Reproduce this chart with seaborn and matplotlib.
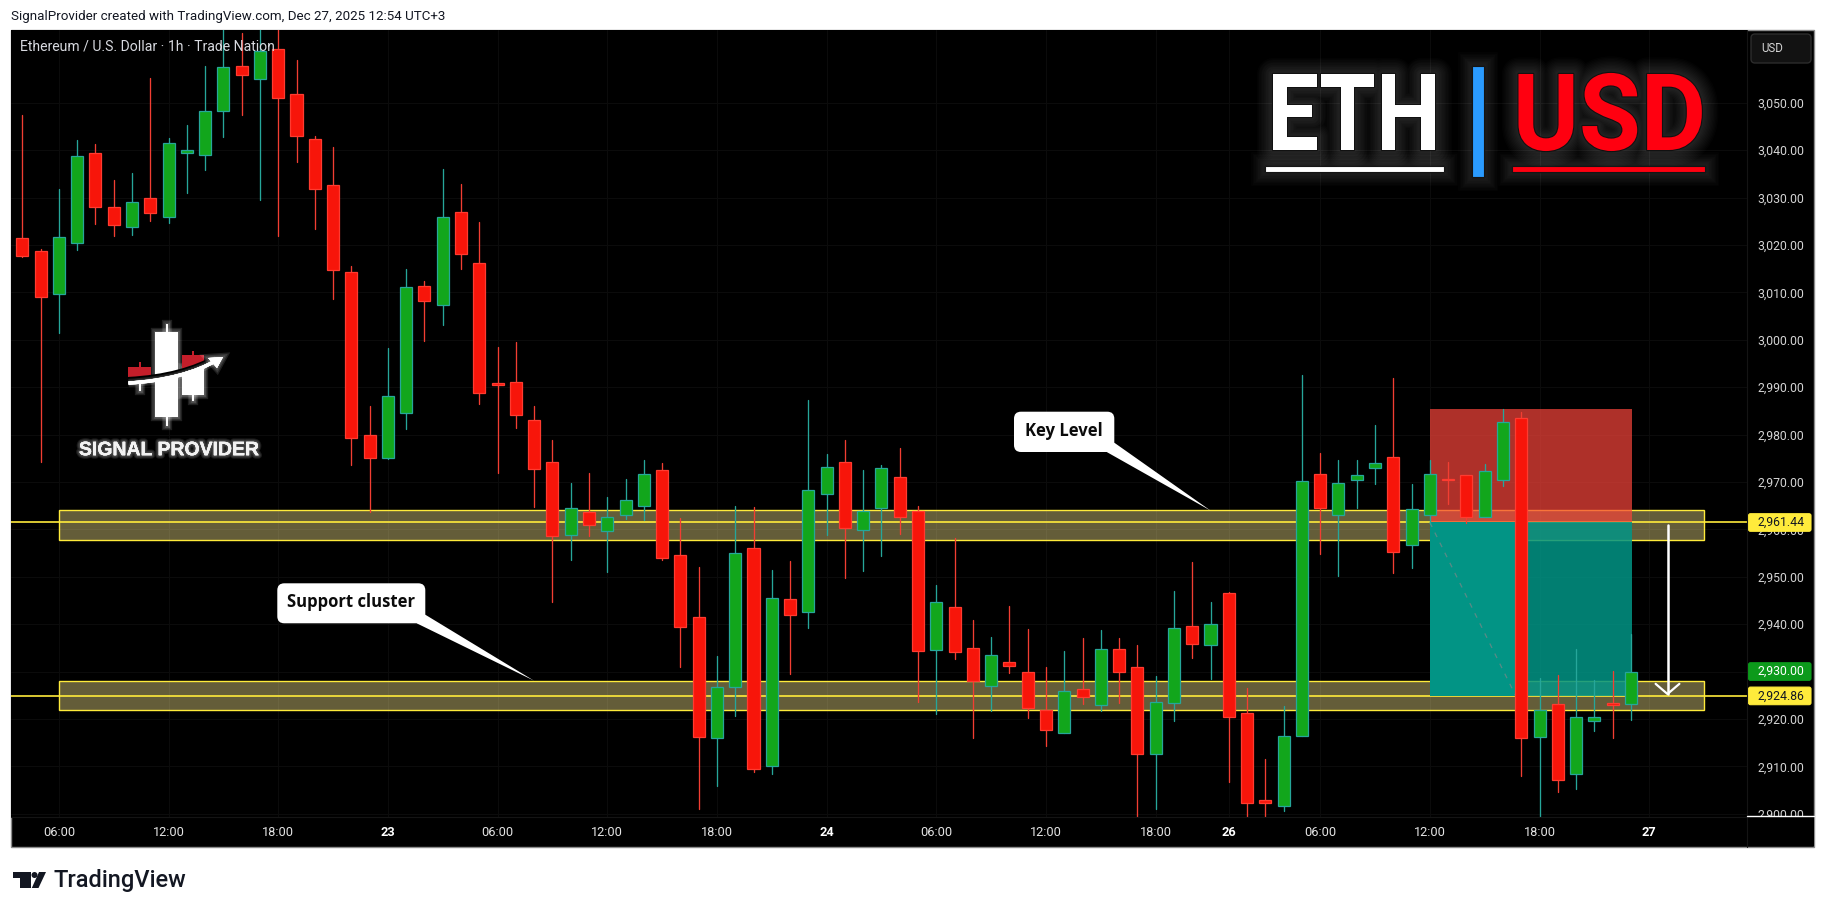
import numpy as np
import pandas as pd
import matplotlib
matplotlib.use("Agg")
import matplotlib.pyplot as plt
import matplotlib.patheffects as pe
from matplotlib.patches import FancyBboxPatch, Polygon, Rectangle
from matplotlib.path import Path
from matplotlib.patches import PathPatch
from matplotlib.transforms import Affine2D
import seaborn as sns

# ---------------------------------------------------------------- data
opens = [3021.4,3018.7,3009.7,3020.3,3039.3,3027.9,3023.8,3030.0,3025.9,3039.3,3039.0,3048.3,3057.75,3055.1,3061.3,3051.8,3042.3,3032.6,3014.2,2979.8,
         2975.1,2984.6,3011.3,3007.4,3026.9,3016.1,2990.9,2991.0,2983.0,2974.3,2958.9,2963.6,2959.7,2963.1,2965.0,2972.6,2954.5,2941.6,2916.0,2926.8,
         2956.0,2910.1,2945.4,2942.6,2967.5,2974.3,2959.9,2964.6,2971.0,2963.8,2934.6,2943.7,2934.9,2927.0,2932.1,2930.0,2921.8,2917.1,2926.4,2923.0,
         2934.7,2930.9,2912.7,2923.4,2939.5,2935.65,2946.5,2921.2,2902.8,2901.7,2916.4,2971.6,2963.1,2970.3,2972.9,2975.2,2956.6,2963.1,2970.6,2971.4,
         2962.7,2970.3,2983.4,2916.2,2923.1,2908.4,2919.6,2923.3,2923.1]
highs = [3047.4,3019.1,3031.8,3042.1,3041.3,3033.7,3035.2,3055.2,3042.6,3045.3,3057.75,3066.4,3064.8,3066.4,3066.4,3059.0,3043.0,3040.7,3015.6,2986.0,
         2998.3,3014.9,3012.4,3036.0,3032.9,3024.8,2998.5,2999.5,2986.0,2978.8,2969.8,2971.9,2966.8,2970.6,2974.6,2973.9,2962.4,2952.0,2933.3,2964.9,
         2964.7,2951.4,2953.3,2987.3,2975.9,2978.8,2972.5,2973.6,2977.1,2964.9,2948.2,2958.1,2940.9,2937.3,2943.8,2938.96,2930.9,2934.3,2937.0,2938.7,
         2937.0,2935.6,2929.0,2947.0,2953.1,2944.7,2946.8,2926.5,2911.5,2922.7,2992.55,2976.1,2974.6,2974.6,2982.0,2991.9,2969.6,2974.6,2974.1,2971.4,
         2973.7,2985.3,2984.7,2928.6,2929.2,2934.7,2928.2,2930.1,2937.9]
lows = [3017.4,2974.3,3001.5,3018.9,3024.4,3021.9,3022.1,3025.0,3024.7,3030.9,3035.8,3042.8,3047.4,3029.5,3021.9,3037.5,3023.4,3008.6,2973.6,2963.6,
        2974.8,2981.2,2999.7,3003.1,3014.9,2986.4,2971.9,2981.4,2964.7,2944.7,2953.5,2958.6,2951.0,2962.2,2961.9,2953.5,2931.0,2901.0,2905.8,2920.6,
        2908.9,2908.4,2929.5,2939.2,2958.8,2949.7,2951.2,2954.4,2959.0,2923.6,2921.0,2932.6,2915.96,2921.7,2929.7,2920.2,2914.3,2917.0,2923.2,2921.7,
        2923.4,2899.4,2901.0,2919.5,2932.8,2928.4,2906.7,2899.4,2899.4,2900.6,2916.4,2954.8,2950.2,2964.6,2969.6,2950.8,2951.9,2961.1,2965.4,2961.3,
        2962.6,2969.1,2908.0,2899.4,2904.6,2905.3,2917.5,2915.96,2919.8]
closes = [3017.7,3009.1,3021.6,3038.7,3028.1,3024.3,3029.0,3026.8,3041.4,3040.0,3048.2,3057.5,3055.9,3060.9,3050.9,3043.0,3031.9,3014.8,2979.3,2975.1,
          2988.1,3011.1,3008.2,3025.8,3018.0,2988.7,2990.4,2984.2,2972.8,2958.5,2964.6,2961.0,2962.5,2966.1,2971.6,2954.0,2939.4,2916.2,2926.7,2955.1,
          2909.4,2945.6,2941.9,2968.4,2973.1,2960.2,2963.8,2972.9,2962.5,2934.4,2944.6,2934.2,2928.1,2933.4,2931.2,2922.4,2917.7,2925.8,2924.7,2934.7,
          2929.95,2912.7,2923.5,2939.1,2935.9,2939.95,2920.5,2902.3,2902.3,2916.5,2970.1,2964.6,2969.7,2971.4,2973.9,2955.3,2964.2,2971.6,2970.4,2962.5,
          2972.2,2982.6,2916.0,2921.8,2907.2,2920.5,2920.5,2923.0,2929.8]

price_ticks = [3050,3040,3030,3020,3010,3000,2990,2980,2970,2960,2950,2940,2930,2920,2910,2900]
time_tick_bars = [2,8,14,20,26,32,38,44,50,56,62,66,71,77,83,89]
time_tick_labels = ["06:00","12:00","18:00","23","06:00","12:00","18:00","24","06:00","12:00","18:00","26","06:00","12:00","18:00","27"]
bold_labels = ["23","24","26","27"]

key_level = 2961.44
support_level = 2924.86
last_price = 2930.00
zone_start_bar, zone_end_bar = 2.03, 92.0
key_zone = (2957.7, 2964.0)
support_zone = (2921.8, 2928.0)
pos_start_bar, pos_split_bar, pos_end_bar = 77.0, 81.7, 88.05
stop_price = 2985.3
arrow_bar = 90.0
arrow_head_bars = 0.65
arrow_head_price = 2927.4

# ---------------------------------------------------------------- layout
W, H = 1826, 913
sns.set_theme(style="dark", rc={"axes.facecolor": "black", "figure.facecolor": "white",
                                "axes.edgecolor": "black", "grid.color": "#0b0b0b"})
plt.rcParams["font.family"] = ["Roboto", "DejaVu Sans"]
fig = plt.figure(figsize=(W / 100, H / 100), dpi=100)

# black chart frame
fig.add_artist(Rectangle((11 / W, 1 - 847 / H), (1814 - 11) / W, (847 - 30) / H, transform=fig.transFigure,
                         facecolor="black", edgecolor="#8c8c8c", linewidth=1.0, zorder=-5))

ax = fig.add_axes([11 / W, 1 - 817 / H, (1747 - 11) / W, (817 - 30) / H], facecolor="black")
ax.set_xlim((11 - 22.3) / 18.28, (1747 - 22.3) / 18.28)
ax.set_ylim(2899.31, 3065.34)


def py(p):
    """price -> figure pixel row"""
    return 30 + (3065.34 - p) / (3065.34 - 2899.31) * (817 - 30)


for s in ax.spines.values():
    s.set_visible(False)
ax.yaxis.tick_right()
ax.set_yticks(price_ticks)
ax.set_yticklabels([f"{v:,.2f}" for v in price_ticks], fontsize=8.8, color="#d4d4d4")
ax.set_xticks(time_tick_bars)
ax.set_xticklabels(time_tick_labels, fontsize=9.2, color="#e4e4e4")
for lab in ax.get_xticklabels():
    if lab.get_text() in bold_labels:
        lab.set_fontweight("bold")
        lab.set_color("white")
ax.tick_params(axis="y", length=0, pad=7.6)
ax.tick_params(axis="x", length=0, pad=6.5)
ax.grid(True, color="#0b0b0b", linewidth=0.8, zorder=0)
ax.set_axisbelow(True)

# zones & levels
zone_fill = (0.99, 0.92, 0.57, 0.40)
for lo, hi in (key_zone, support_zone):
    ax.add_patch(Rectangle((zone_start_bar, lo), zone_end_bar - zone_start_bar, hi - lo, facecolor=zone_fill,
                           edgecolor="#FFEB3B", linewidth=1.0, zorder=1))
for lv in (key_level, support_level):
    ax.axhline(lv, color="#FFEB3B", linewidth=1.2, zorder=1.5)

# position tool
ax.add_patch(Rectangle((pos_start_bar, key_level), pos_end_bar - pos_start_bar, stop_price - key_level,
                       facecolor="#F6443A", alpha=0.71, edgecolor="none", zorder=2))
ax.add_patch(Rectangle((pos_start_bar, support_level), pos_end_bar - pos_start_bar, key_level - support_level,
                       facecolor="#029485", alpha=0.86, edgecolor="none", zorder=2))
ax.add_patch(Rectangle((pos_start_bar, support_level), pos_split_bar - pos_start_bar, key_level - support_level,
                       facecolor="#029485", edgecolor="none", zorder=2.1))
ax.plot([pos_start_bar, pos_split_bar], [key_level, support_level], color="#5a8a86", linewidth=0.9,
        linestyle=(0, (4, 5)), zorder=2.5)

# candles
df = pd.DataFrame({"open": opens, "high": highs, "low": lows, "close": closes})
df["bar"] = np.arange(len(df))
df["dir"] = np.where(df["close"] >= df["open"], "up", "down")
wicks = df.melt(id_vars=["bar", "dir"], value_vars=["low", "high"], value_name="price")
sns.lineplot(data=wicks, x="bar", y="price", units="bar", hue="dir", estimator=None, sort=False,
             palette={"up": "#26A69A", "down": "#F23E32"}, linewidth=0.95, legend=False, ax=ax, zorder=3)
ax.set_xlabel("")
ax.set_ylabel("")
up = df[df["dir"] == "up"]
down = df[df["dir"] == "down"]
ax.bar(up["bar"], up["close"] - up["open"], bottom=up["open"], width=0.66, color="#12A61C",
       edgecolor="#26A69A", linewidth=0.9, zorder=4)
ax.bar(down["bar"], down["open"] - down["close"], bottom=down["close"], width=0.66, color="#F7150A",
       edgecolor="#FF3B30", linewidth=0.9, zorder=4)

# white target arrow
ax.plot([arrow_bar, arrow_bar], [key_level - 0.6, support_level + 0.4], color="white", linewidth=1.8, zorder=5)
ax.plot([arrow_bar - arrow_head_bars, arrow_bar, arrow_bar + arrow_head_bars],
        [arrow_head_price, support_level + 0.4, arrow_head_price], color="white", linewidth=1.6, zorder=5)

# ---------------------------------------------------------------- overlay in pixel rows
ov = fig.add_axes([0, 0, 1, 1], facecolor="none", zorder=5)
ov.set_xlim(0, W)
ov.set_ylim(H, 0)
ov.axis("off")

ov.plot([1747, 1747], [30, 847], color="#141414", linewidth=0.8)
ov.plot([11, 1747], [817, 817], color="#141414", linewidth=0.8)
ov.add_patch(Rectangle((1747.5, 816.5), 66, 30, facecolor="black", edgecolor="none"))
ov.plot([1747, 1814], [816, 816], color="white", linewidth=1.0)


def flag(p, txt, bg, fg):
    y = py(p)
    ov.add_patch(FancyBboxPatch((1748.5, y - 8.8), 62.5, 17.6, boxstyle="round,pad=0,rounding_size=2",
                                facecolor=bg, edgecolor=bg, linewidth=0.8))
    ov.text(1781, y, txt, color=fg, fontsize=8.8, ha="center", va="center")


flag(key_level, f"{key_level:,.2f}", "#FFEB3B", "#131722")
flag(last_price, f"{last_price:,.2f}", "#0C9A1B", "white")
flag(support_level, f"{support_level:,.2f}", "#FFEB3B", "#131722")

ov.add_patch(FancyBboxPatch((1751, 34), 60, 29, boxstyle="round,pad=0,rounding_size=4",
                            facecolor="#121212", edgecolor="#2c2c2c", linewidth=1))
ov.text(1761.5, 48.5, "USD", color="#d4d4d4", fontsize=8.3, ha="left", va="center")

ov.text(11, 16.5, "SignalProvider created with TradingView.com, Dec 27, 2025 12:54 UTC+3", color="#131722",
        fontsize=9.68, ha="left", va="center")
ov.text(20, 46.5, "Ethereum / U.S. Dollar \u00b7 1h \u00b7 Trade Nation", color="#d8dae0", fontsize=10.1,
        ha="left", va="center")


def glow(color="white", steps=(7, 5, 3), alpha=0.1):
    return [pe.withStroke(linewidth=w, foreground=color, alpha=alpha) for w in steps] + [pe.Normal()]


class Condensed(pe.AbstractPathEffect):
    """Draw a text squeezed horizontally about cx, with optional stroke."""

    def __init__(self, sx, cx, linewidth=None, foreground=None, alpha=None):
        super().__init__()
        self.sx, self.cx = sx, cx
        self.lw, self.fg, self.a = linewidth, foreground, alpha

    def draw_path(self, renderer, gc, tpath, affine, rgbFace=None):
        tr = affine + Affine2D().translate(-self.cx, 0).scale(self.sx, 1).translate(self.cx, 0)
        if self.lw is None:
            renderer.draw_path(gc, tpath, tr, rgbFace)
            return
        g = renderer.new_gc()
        g.copy_properties(gc)
        g.set_linewidth(self.lw)
        g.set_foreground(self.fg)
        g.set_alpha(self.a if self.a is not None else 1.0)
        g.set_joinstyle("round")
        renderer.draw_path(g, tpath, tr, None)
        g.restore()


def title_fx(sx, cx):
    fx = [Condensed(sx, cx, linewidth=w, foreground="white", alpha=0.017) for w in range(24, 1, -2)]
    fx.append(Condensed(sx, cx, linewidth=1.6, foreground="#111111"))
    fx.append(Condensed(sx, cx))
    return fx


rect_glow = [pe.withStroke(linewidth=w, foreground="white", alpha=0.017) for w in range(20, 1, -2)] + [pe.Normal()]
for x0, x1, y0, y1, c in ((1265, 1444, 166, 172, "white"), (1512, 1705, 166, 172, "#FF0010"),
                          (1472, 1483.5, 66, 177.5, "#2A9BFF")):
    ov.add_patch(Rectangle((x0, y0), x1 - x0, y1 - y0, facecolor=c, edgecolor="#141414", linewidth=0.8,
                           path_effects=rect_glow))
ov.text(1354, 150, "ETH", color="white", fontsize=77, fontweight="bold", family="Roboto", ha="center",
        va="baseline", path_effects=title_fx(0.86, 1354))
ov.text(1609.5, 150, "USD", color="#FF0010", fontsize=77, fontweight="bold", family="Roboto", ha="center",
        va="baseline", path_effects=title_fx(0.94, 1609.5))

# signal provider logo
logo_fx = glow(steps=(6, 4, 2), alpha=0.12)
white_rects = [(155.3, 331.7, 22.4, 85), (165.7, 324, 2.2, 102), (182.3, 367, 21.4, 28.3), (192, 395, 2.2, 6),
               (138.6, 384, 2.2, 7)]
for x, y, w, h in white_rects:
    ov.add_patch(Rectangle((x, y), w, h, facecolor="white", edgecolor="none", path_effects=logo_fx))
for x, y, w, h in [(128.3, 366.7, 22.4, 10.6), (138.6, 362.5, 2.2, 4.5), (182, 355.5, 22, 14), (192, 351, 2.2, 5)]:
    ov.add_patch(Rectangle((x, y), w, h, facecolor="#C41E2A", edgecolor="none"))
swoosh_low = Path([(128.5, 383), (165, 381), (195, 373), (217, 360)], [Path.MOVETO, Path.CURVE4, Path.CURVE4, Path.CURVE4])
swoosh_gap = Path([(128.5, 379), (165, 377), (195, 369), (217, 356)], [Path.MOVETO, Path.CURVE4, Path.CURVE4, Path.CURVE4])
ov.add_patch(PathPatch(swoosh_gap, facecolor="none", edgecolor="black", linewidth=3.0))
ov.add_patch(PathPatch(swoosh_low, facecolor="none", edgecolor="white", linewidth=2.4, path_effects=logo_fx))
ov.add_patch(Polygon([(223, 357), (208, 358), (217, 368)], facecolor="white", edgecolor="none", path_effects=logo_fx))
ov.text(169, 450.7, "SIGNAL PROVIDER", color="#f2f2f2", fontsize=14, fontweight="bold", family="Liberation Sans",
        ha="center", va="center", path_effects=glow(steps=(5, 3.5, 2), alpha=0.1))


def callout(x0, y0, x1, y1, txt, tail):
    ov.add_patch(Polygon(tail, facecolor="white", edgecolor="none"))
    ov.add_patch(FancyBboxPatch((x0, y0), x1 - x0, y1 - y0, boxstyle="round,pad=0,rounding_size=7",
                                facecolor="white", edgecolor="none"))
    ov.text((x0 + x1) / 2, (y0 + y1) / 2 - 1, txt, color="#0b0b0b", fontsize=12, fontweight="bold",
            family="Open Sans", ha="center", va="center")


callout(1014, 411.7, 1114.3, 452, "Key Level", [(1114.3, 442.7), (1106.7, 452), (1210.7, 510.7)])
callout(277.3, 583.3, 425.3, 623.3, "Support cluster", [(425.3, 614.7), (416.7, 623.3), (534, 680.7)])

dark = "#131722"
ov.add_patch(Polygon([(13, 872), (31, 872), (31, 888), (20, 888), (20, 878.5), (13, 878.5)], facecolor=dark, edgecolor="none"))
ov.add_patch(plt.Circle((34.5, 875), 3.0, facecolor=dark, edgecolor="none"))
ov.add_patch(Polygon([(39, 872), (46, 872), (38.5, 888), (31.8, 888)], facecolor=dark, edgecolor="none"))
ov.text(54, 880, "TradingView", color=dark, fontsize=17, fontweight="medium", family="Roboto", ha="left", va="center")

fig.savefig("out.png", dpi=100, facecolor="white")
